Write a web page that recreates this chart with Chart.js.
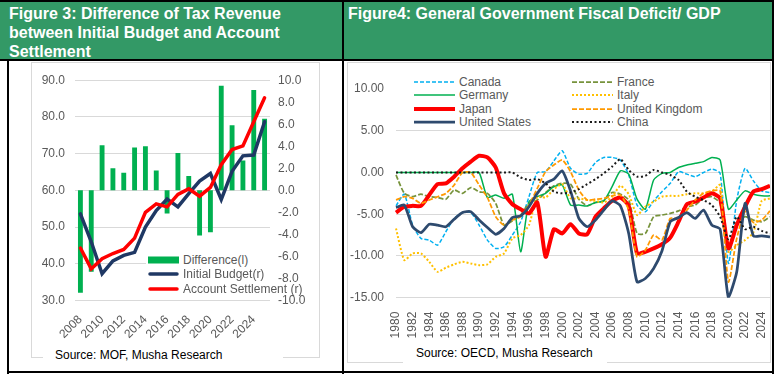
<!DOCTYPE html>
<html>
<head>
<meta charset="utf-8">
<script src="https://cdn.jsdelivr.net/npm/chart.js@4.4.1/dist/chart.umd.min.js"></script>
<style>
  body { margin:0; width:779px; height:374px; position:relative; overflow:hidden; background:#fff;
         font-family:"Liberation Sans", Arial, sans-serif; }
  .blk { position:absolute; background:#000; }
  .hdr { position:absolute; background:#339966; color:#fff; font-weight:bold; font-size:16px;
         line-height:19px; box-sizing:border-box; white-space:nowrap; }
  .frame { position:absolute; border:1px solid #D9D9D9; box-sizing:border-box; }
  .src { position:absolute; background:#fff; font-size:12px; color:#000; line-height:16px; box-sizing:border-box; white-space:nowrap; }
  .lg { position:absolute; display:flex; align-items:center; font-size:12px; color:#595959;
        white-space:nowrap; height:14px; line-height:14px; }
  .lg svg { display:block; margin-right:4px; }
  .lgbg { position:absolute; background:#fff; }
  canvas { position:absolute; }
</style>
</head>
<body>
<div class="hdr" style="left:0;top:2px;width:343px;height:58px;padding:2px 0 0 9px">Figure 3: Difference of Tax Revenue<br>between Initial Budget and Account<br>Settlement</div>
<div class="hdr" style="left:344px;top:2px;width:429px;height:58px;padding:2px 0 0 4px">Figure4: General Government Fiscal Deficit/ GDP</div>

<div class="frame" style="left:31px;top:62px;width:289px;height:296px"></div>
<div class="frame" style="left:347px;top:62px;width:424px;height:301px"></div>

<canvas id="taxChart" width="286" height="277" style="left:32px;top:63px"></canvas>
<canvas id="deficitChart" width="422" height="277" style="left:348px;top:63px"></canvas>

<div class="lgbg" style="left:146px;top:252px;width:124px;height:44px"></div>
<div class="lgbg" style="left:396px;top:70px;width:374px;height:59px"></div>
<div id="legends"></div>

<div class="src" style="left:43px;top:347px;width:240px;height:18px;padding-left:12px">Source: MOF, Musha Research</div>
<div class="src" style="left:403px;top:345px;width:204px;height:19px;padding-left:13px">Source: OECD, Musha Research</div>

<div class="blk" style="left:0;top:0;width:774px;height:2px"></div>
<div class="blk" style="left:0;top:59px;width:774px;height:2px"></div>
<div class="blk" style="left:342px;top:0;width:2px;height:374px"></div>
<div class="blk" style="left:772px;top:0;width:2px;height:374px"></div>
<div class="blk" style="left:7px;top:59px;width:2px;height:315px"></div>
<div class="blk" style="left:7px;top:371px;width:767px;height:2px"></div>

<script>
// Figure 3 - tax revenue, trillion yen (fiscal years)
const fiscalYears = ['2008', '2009', '2010', '2011', '2012', '2013', '2014', '2015', '2016',
  '2017', '2018', '2019', '2020', '2021', '2022', '2023', '2024', '2025']
const difference = [-9.3, -7.4, 4.1, 2.0, 1.6, 3.9, 4.0, 1.8, -2.1,
  3.4, 1.3, -4.1, -3.8, 9.5, 5.9, 2.7, 9.1, 6.5]
const initialBudget = [53.6, 46.0, 37.3, 40.8, 42.3, 43.1, 50.0, 54.5, 57.6,
  55.5, 59.1, 62.5, 64.6, 57.5, 65.2, 69.4, 69.6, 78.7]
const accountSettlement = [44.3, 38.6, 41.4, 42.8, 43.9, 47.0, 54.0, 56.3, 55.5,
  58.9, 60.4, 58.4, 60.8, 67.0, 71.1, 72.1, 78.7, 85.2]

// Figure 4 - general government fiscal balance, % of GDP
const years = ['1980', '1981', '1982', '1983', '1984', '1985', '1986', '1987', '1988', '1989',
  '1990', '1991', '1992', '1993', '1994', '1995', '1996', '1997', '1998', '1999',
  '2000', '2001', '2002', '2003', '2004', '2005', '2006', '2007', '2008', '2009',
  '2010', '2011', '2012', '2013', '2014', '2015', '2016', '2017', '2018', '2019',
  '2020', '2021', '2022', '2023', '2024', '2025']
const canada = [-4.0, -2.6, -6.3, -7.9, -8.1, -8.7, -7.1, -5.5, -4.8, -4.8,
  -6.3, -8.1, -9.1, -8.9, -7.5, -5.9, -2.9, 0.0, 0.1, 1.4,
  2.6, 0.5, -0.2, -0.1, 1.2, 1.8, 1.8, 1.5, -0.3, -3.9,
  -4.7, -3.4, -2.3, -1.3, 0.1, -0.2, -0.5, 0.0, 0.4, -0.1,
  -10.9, -3.3, 0.5, -1.0, -2.2, -2.4]
const france = [-0.3, -2.5, -2.9, -2.6, -2.9, -3.0, -3.2, -2.1, -2.5, -1.8,
  -2.3, -2.5, -3.7, -6.3, -5.8, -5.1, -3.7, -3.3, -2.4, -1.6,
  -1.3, -1.4, -3.2, -4.0, -3.6, -3.4, -2.4, -2.6, -3.3, -7.3,
  -7.3, -5.3, -5.1, -4.9, -4.6, -4.1, -3.9, -3.1, -2.9, -3.7,
  -9.1, -5.9, -5.3, -5.7, -5.9, -5.3]
const germany = [0, 0, 0, 0, 0, 0, 0, 0, 0, 0,
  0, -3.0, -2.7, -3.1, -2.6, -9.5, -3.5, -2.9, -2.5, -1.7,
  -1.5, -3.9, -3.9, -4.0, -3.6, -3.4, -1.7, 0.2, -0.2, -3.2,
  -4.4, -0.9, -0.1, 0.0, 0.6, 0.9, 1.1, 1.3, 1.8, 1.5,
  -4.4, -3.3, -2.2, -2.6, -2.8, -2.8]
const italy = [-6.7, -10.5, -9.7, -9.7, -10.7, -11.9, -11.4, -11.0, -10.7, -10.9,
  -11.1, -11.0, -10.1, -9.7, -7.9, -7.5, -6.3, -2.9, -3.0, -2.0,
  -1.4, -3.1, -3.1, -3.3, -3.4, -3.6, -2.9, -1.6, -2.6, -5.1,
  -4.1, -3.5, -2.9, -2.8, -2.8, -2.6, -2.5, -2.5, -2.3, -1.5,
  -9.5, -8.7, -8.1, -7.2, -3.4, -3.1]
const japan = [-4.8, -4.1, -4.0, -4.0, -2.7, -1.4, -1.3, -0.5, 0.5, 1.3,
  2.0, 1.8, 0.6, -2.5, -3.8, -4.4, -4.9, -3.6, -10.1, -6.8,
  -7.3, -6.2, -7.3, -7.4, -5.3, -4.3, -3.4, -3.0, -4.0, -9.7,
  -9.5, -9.1, -8.6, -7.8, -5.9, -3.8, -3.5, -3.0, -2.5, -3.1,
  -9.1, -6.3, -4.1, -2.3, -2.0, -1.6]
const unitedKingdom = [-3.3, -2.9, -3.1, -3.7, -3.3, -2.9, -2.5, -1.5, 0.0, 0.0,
  -1.5, -3.0, -5.3, -6.3, -5.7, -5.3, -3.9, -1.9, 0.1, 0.9,
  1.5, 0.1, -2.1, -3.3, -3.2, -3.1, -2.8, -2.7, -4.5, -10.1,
  -9.3, -7.5, -8.1, -5.5, -5.5, -4.5, -3.3, -2.5, -2.2, -2.2,
  -13.1, -7.9, -4.7, -6.0, -5.7, -4.6]
const unitedStates = [-4.2, -3.9, -6.5, -7.2, -6.2, -6.3, -6.5, -5.6, -4.8, -4.7,
  -5.7, -6.6, -7.4, -6.7, -5.4, -5.2, -4.1, -2.5, -1.3, -0.8,
  0.2, -2.2, -5.5, -6.5, -5.7, -4.5, -3.4, -4.0, -7.3, -13.1,
  -12.7, -11.5, -9.4, -5.9, -5.4, -4.8, -5.5, -4.5, -6.3, -6.8,
  -15.0, -11.9, -3.7, -7.6, -7.6, -7.7]
const china = [0, 0, 0, 0, 0, 0, 0, 0, 0, 0,
  0, 0, 0, 0, 0, -0.6, -0.9, -0.8, -1.3, -2.3,
  -2.5, -2.4, -2.0, -1.4, -0.8, -0.1, 0.7, 1.6, 0.3, -0.5,
  -0.4, 0.3, 0.0, -0.3, -0.9, -2.3, -2.9, -3.3, -3.9, -5.3,
  -8.0, -5.3, -6.8, -6.5, -7.0, -7.3]

Chart.defaults.font.family = '"Liberation Sans", Arial, sans-serif'
Chart.defaults.font.size = 12
Chart.defaults.color = '#595959'

const gridColor = '#D9D9D9'
const everyOther = (labels) => (value, index) => index % 2 === 0 ? labels[index] : ''

// Left chart: bars against the right axis, lines against the left axis
const taxChart = new Chart(document.getElementById('taxChart'), {
  type: 'bar',
  data: {
    labels: fiscalYears,
    datasets: [
      {
        type: 'bar',
        label: 'Difference(l)',
        data: difference,
        yAxisID: 'y1',
        backgroundColor: '#00B050',
        barPercentage: 0.45,
        categoryPercentage: 1,
        order: 3
      },
      {
        type: 'line',
        label: 'Initial Budget(r)',
        data: initialBudget,
        yAxisID: 'y',
        borderColor: '#1F3864',
        borderWidth: 3.5,
        borderCapStyle: 'round',
        pointRadius: 0,
        order: 2
      },
      {
        type: 'line',
        label: 'Account Settlement (r)',
        data: accountSettlement,
        yAxisID: 'y',
        borderColor: '#FF0000',
        borderWidth: 3.5,
        borderCapStyle: 'round',
        pointRadius: 0,
        order: 1
      }
    ]
  },
  options: {
    responsive: false,
    animation: false,
    layout: { padding: { top: 15, left: 0, right: 0, bottom: 0 } },
    plugins: { legend: { display: false }, tooltip: { enabled: false } },
    scales: {
      x: {
        grid: { display: false },
        border: { display: false },
        ticks: {
          autoSkip: false, maxRotation: 45, minRotation: 45, padding: 4,
          callback: everyOther(fiscalYears)
        },
        afterFit: (s) => { s.height = 39.5; s.paddingLeft = 0; s.paddingRight = 0 }
      },
      y: {
        position: 'left',
        min: 30, max: 90,
        ticks: { stepSize: 10, padding: 10, callback: (v) => v.toFixed(1) },
        grid: { color: gridColor, drawTicks: false },
        border: { display: false },
        afterFit: (s) => { s.width = 43 }
      },
      y1: {
        position: 'right',
        min: -10, max: 10,
        ticks: { stepSize: 2, padding: 8, callback: (v) => v.toFixed(1) },
        grid: { display: false, drawTicks: false },
        border: { display: false },
        afterFit: (s) => { s.width = 48 }
      }
    }
  }
})

// Right chart: one line per country, in the source's series order
const countries = [
  { label: 'Canada', data: canada, color: '#00B0F0', width: 1.5, dash: [4, 2] },
  { label: 'France', data: france, color: '#77933C', width: 1.75, dash: [5, 2] },
  { label: 'Germany', data: germany, color: '#00B050', width: 1.5, dash: [] },
  { label: 'Italy', data: italy, color: '#FFC000', width: 2, dash: [2, 2] },
  { label: 'Japan', data: japan, color: '#FF0000', width: 4, dash: [] },
  { label: 'United Kingdom', data: unitedKingdom, color: '#FF9900', width: 1.75, dash: [5, 2] },
  { label: 'United States', data: unitedStates, color: '#2E4A6E', width: 2.75, dash: [] },
  { label: 'China', data: china, color: '#1A1A1A', width: 2, dash: [2, 2.5] }
]

const deficitChart = new Chart(document.getElementById('deficitChart'), {
  type: 'line',
  data: {
    labels: years,
    datasets: countries.map((c, i) => ({
      label: c.label,
      data: c.data,
      borderColor: c.color,
      borderWidth: c.width,
      borderDash: c.dash,
      pointRadius: 0,
      tension: 0.2,
      order: countries.length - i
    }))
  },
  options: {
    responsive: false,
    animation: false,
    layout: { padding: { top: 26, left: 0, right: 0, bottom: 0 } },
    plugins: { legend: { display: false }, tooltip: { enabled: false } },
    scales: {
      x: {
        grid: { display: false },
        border: { display: false },
        ticks: {
          autoSkip: false, maxRotation: 90, minRotation: 90, padding: 6,
          callback: everyOther(years)
        },
        afterFit: (s) => { s.height = 42.3; s.paddingLeft = 0; s.paddingRight = 0 }
      },
      y: {
        min: -15, max: 10,
        ticks: { stepSize: 5, padding: 12, callback: (v) => v.toFixed(2) },
        grid: { color: gridColor, drawTicks: false },
        border: { display: false },
        afterFit: (s) => { s.width = 48 }
      }
    }
  }
})

// HTML legends built from the datasets
function symbol(ds, w) {
  if (ds.type === 'bar') {
    return `<svg width="${w}" height="10"><rect x="0" y="1.5" width="${w}" height="7" fill="${ds.backgroundColor}"/></svg>`
  }
  const dash = ds.borderDash && ds.borderDash.length ? ds.borderDash.join(',') : 'none'
  const cap = ds.borderCapStyle === 'round' ? 'round' : 'butt'
  const inset = cap === 'round' ? 2 : 0
  return `<svg width="${w}" height="10"><line x1="${inset}" y1="5" x2="${w - inset}" y2="5" stroke="${ds.borderColor}" stroke-width="${ds.borderWidth}" stroke-dasharray="${dash}" stroke-linecap="${cap}"/></svg>`
}

function addLegend(chart, place, symbolWidth) {
  const box = document.getElementById('legends')
  chart.data.datasets.forEach((ds, i) => {
    const p = place(i)
    const item = document.createElement('div')
    item.className = 'lg'
    item.style.left = p.x + 'px'
    item.style.top = (p.y - 7) + 'px'
    item.innerHTML = symbol(ds, symbolWidth) + '<span>' + ds.label + '</span>'
    box.appendChild(item)
  })
}

addLegend(taxChart, (i) => ({ x: 148, y: 259.5 + i * 14.6 }), 31)
addLegend(deficitChart, (i) => ({ x: i % 2 === 0 ? 414 : 572, y: 81.7 + Math.floor(i / 2) * 13.4 }), 41)
</script>
</body>
</html>
